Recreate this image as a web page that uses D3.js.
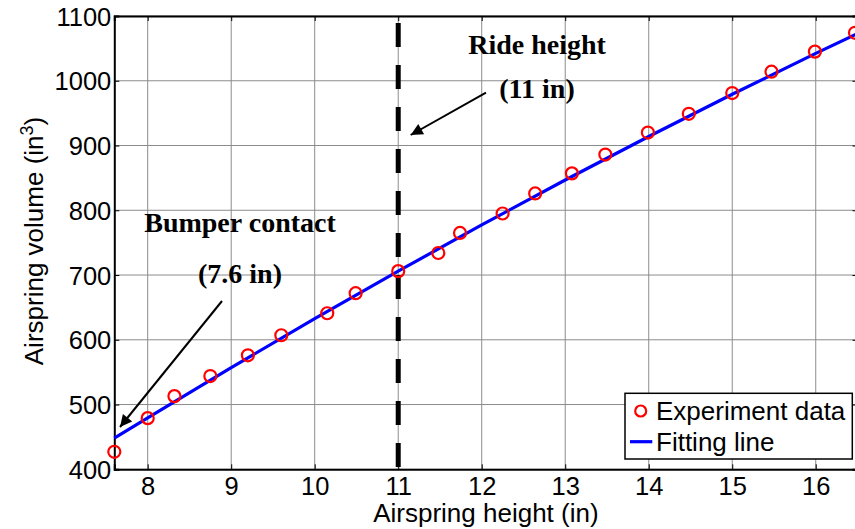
<!DOCTYPE html>
<html><head><meta charset="utf-8">
<script src="https://cdn.jsdelivr.net/npm/d3@7"></script>
<style>body{margin:0;background:#fff}</style>
</head><body>
<svg id="c" width="855" height="529"></svg>
<script>
// Data
const expX = [7.6, 8.0, 8.32, 8.75, 9.2, 9.6, 10.15, 10.49, 11.0, 11.48, 11.74, 12.25, 12.64, 13.08, 13.48, 13.99, 14.48, 15.0, 15.47, 15.99, 16.47];
const expY = [427, 479, 513, 544, 576, 607, 641, 672, 706, 734, 765, 795, 826, 857, 886, 920, 949, 981, 1014, 1045, 1074];
const fitX = [7.6, 8, 9, 10, 11, 12, 13, 14, 15, 16, 16.5];
const fitY = [448, 479.5, 557, 632.6, 706, 777.4, 846.7, 913.9, 979.1, 1042.3, 1073];
const xTicks = [8, 9, 10, 11, 12, 13, 14, 15, 16];
const yTicks = [400, 500, 600, 700, 800, 900, 1000, 1100];
const rideHeight = 11;

const svg = d3.select("#c");
const L = 114.3, R = 857.5, T = 16, B = 469.3;
const x = d3.scaleLinear().domain([7.6, 16.5]).range([L, R]);
const y = d3.scaleLinear().domain([400, 1100]).range([B, T]);

// grid
const g = svg.append("g");
g.selectAll(".gx").data(xTicks).enter().append("line")
  .attr("x1", d => x(d)).attr("x2", d => x(d)).attr("y1", T).attr("y2", B)
  .attr("stroke", "#8c8c8c").attr("stroke-width", 1);
g.selectAll(".gy").data(yTicks).enter().append("line")
  .attr("x1", L).attr("x2", R).attr("y1", d => y(d)).attr("y2", d => y(d))
  .attr("stroke", "#8c8c8c").attr("stroke-width", 1);

// axes
const fs = "25.5px";
const xa = svg.append("g").attr("transform", `translate(0,${B})`)
  .call(d3.axisBottom(x).tickValues(xTicks).tickSize(-5).tickPadding(7).tickFormat(d3.format("d")));
const ya = svg.append("g").attr("transform", `translate(${L},0)`)
  .call(d3.axisLeft(y).tickValues(yTicks).tickSize(-5).tickPadding(3).tickFormat(d3.format("d")));
const xt = svg.append("g").attr("transform", `translate(0,${T})`)
  .call(d3.axisTop(x).tickValues(xTicks).tickSize(-5).tickFormat(""));
const yr = svg.append("g").attr("transform", `translate(${R},0)`)
  .call(d3.axisRight(y).tickValues(yTicks).tickSize(-5).tickFormat(""));
[xa, ya, xt, yr].forEach(a => {
  a.select(".domain").attr("stroke", "#000").attr("stroke-width", 2);
  a.selectAll(".tick line").attr("stroke", "#000");
  a.selectAll("text").attr("font-family", "Liberation Sans, Arial, sans-serif").attr("font-size", fs).attr("fill", "#000");
});
ya.selectAll("text").attr("dy", "0.36em");
xa.selectAll("text").attr("dy", "0.72em");

// dashed ride height line
svg.append("line")
  .attr("x1", x(rideHeight)).attr("x2", x(rideHeight)).attr("y1", T).attr("y2", B)
  .attr("stroke", "#000").attr("stroke-width", 5)
  .attr("stroke-dasharray", "24,18").attr("stroke-dashoffset", 35);

// fit line
svg.append("path").datum(fitX.map((d, i) => [d, fitY[i]]))
  .attr("fill", "none").attr("stroke", "#0000ff").attr("stroke-width", 3.2)
  .attr("d", d3.line().x(d => x(d[0])).y(d => y(d[1])).curve(d3.curveMonotoneX));

// data points
svg.selectAll(".pt").data(expX.map((d, i) => [d, expY[i]])).enter().append("circle")
  .attr("cx", d => x(d[0])).attr("cy", d => y(d[1])).attr("r", 6)
  .attr("fill", "none").attr("stroke", "#ff0000").attr("stroke-width", 2.2);

// axis titles
svg.append("text").attr("x", (L + R) / 2).attr("y", 522).attr("text-anchor", "middle")
  .attr("font-family", "Liberation Sans, Arial, sans-serif").attr("font-size", "26px")
  .text("Airspring height (in)");
const yt = svg.append("text").attr("transform", "translate(43,241) rotate(-90)").attr("text-anchor", "middle")
  .attr("font-family", "Liberation Sans, Arial, sans-serif").attr("font-size", "26px");
yt.append("tspan").text("Airspring volume (in");
yt.append("tspan").attr("font-size", "18px").attr("dy", "-10").text("3");
yt.append("tspan").attr("dy", "10").text(")");

// arrow marker
svg.append("defs").append("marker").attr("id", "ah").attr("viewBox", "0 0 10 10")
  .attr("refX", 10).attr("refY", 5).attr("markerWidth", 16).attr("markerHeight", 12)
  .attr("markerUnits", "userSpaceOnUse").attr("orient", "auto")
  .append("path").attr("d", "M0,0 L10,5 L0,10 Z").attr("fill", "#000");

// annotations
const ann = (tx, ty, s) => svg.append("text").attr("x", tx).attr("y", ty).attr("text-anchor", "middle")
  .attr("font-family", "Liberation Serif, Times New Roman, serif").attr("font-weight", "bold").attr("font-size", "28px").text(s);
ann(537, 54, "Ride height");
ann(537, 98, "(11 in)");
ann(240, 232, "Bumper contact");
ann(240, 283, "(7.6 in)");
svg.append("line").attr("x1", 486).attr("y1", 92.7).attr("x2", 410.7).attr("y2", 135)
  .attr("stroke", "#000").attr("stroke-width", 2).attr("marker-end", "url(#ah)");
svg.append("line").attr("x1", 222).attr("y1", 301).attr("x2", 120).attr("y2", 427)
  .attr("stroke", "#000").attr("stroke-width", 2).attr("marker-end", "url(#ah)");

// legend
const lg = svg.append("g");
lg.append("rect").attr("x", 625).attr("y", 393.3).attr("width", 227.3).attr("height", 65.7)
  .attr("fill", "#fff").attr("stroke", "#000").attr("stroke-width", 1.5);
lg.append("circle").attr("cx", 640.7).attr("cy", 411).attr("r", 5.5)
  .attr("fill", "none").attr("stroke", "#ff0000").attr("stroke-width", 2.2);
lg.append("line").attr("x1", 630).attr("x2", 652.3).attr("y1", 441.7).attr("y2", 441.7)
  .attr("stroke", "#0000ff").attr("stroke-width", 3.2);
const lt = (ty, s) => lg.append("text").attr("x", 656).attr("y", ty)
  .attr("font-family", "Liberation Sans, Arial, sans-serif").attr("font-size", "26px").text(s);
lt(419.5, "Experiment data");
lt(451, "Fitting line");
</script>
</body></html>
